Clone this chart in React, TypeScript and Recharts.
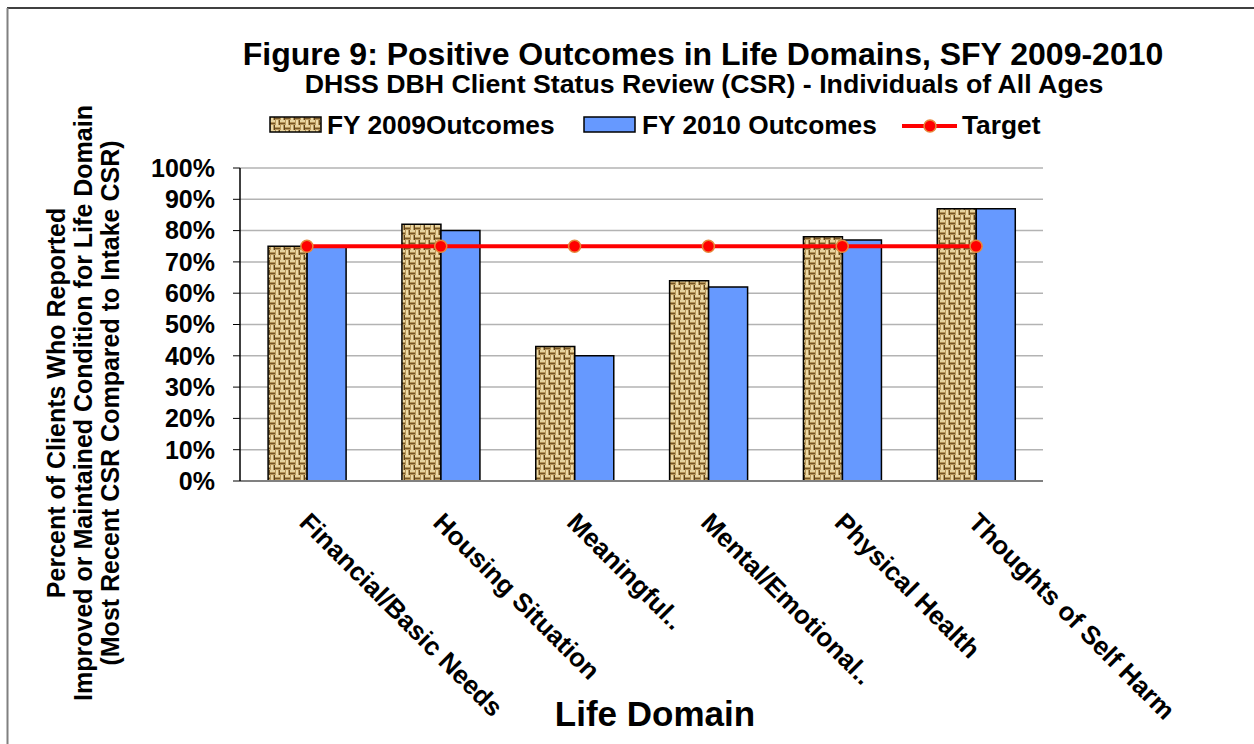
import React from 'react';
import {
  ComposedChart,
  Bar,
  Line,
  XAxis,
  YAxis,
  CartesianGrid,
} from 'recharts';

const domains = [
  'Financial/Basic Needs',
  'Housing Situation',
  'Meaningful..',
  'Mental/Emotional..',
  'Physical Health',
  'Thoughts of Self Harm',
];
const fy2009 = [75, 82, 43, 64, 78, 87];
const fy2010 = [75, 80, 40, 62, 77, 87];
const target = [75, 75, 75, 75, 75, 75];
const yTicks = [0, 10, 20, 30, 40, 50, 60, 70, 80, 90, 100];

const data = domains.map((name, i) => ({
  name,
  fy2009: fy2009[i],
  fy2010: fy2010[i],
  target: target[i],
}));

const FONT = '"Liberation Sans", Arial, sans-serif';
const BLUE = '#6699FF';

const DomainTick = (props: any) => {
  const { x, y, payload } = props;
  return (
    <text
      transform={`translate(${x - 9},${y + 43}) rotate(45)`}
      fontFamily={FONT}
      fontWeight="bold"
      fontSize={26}
      fill="#000"
      textAnchor="start"
    >
      {payload.value}
    </text>
  );
};

const Weave = () => (
  <defs>
    <pattern id="weave" width="10" height="10" patternUnits="userSpaceOnUse">
      <rect width="10" height="10" fill="#b8975a" />
      <rect x="0" y="0" width="5" height="2" fill="#e8d49f" />
      <rect x="0" y="3" width="5" height="1" fill="#765626" />
      <rect x="6" y="0" width="2" height="5" fill="#eddaa8" />
      <rect x="9" y="0" width="1" height="5" fill="#6a4d22" />
      <rect x="5" y="5" width="5" height="2" fill="#e8d49f" />
      <rect x="5" y="8" width="5" height="1" fill="#765626" />
      <rect x="1" y="5" width="2" height="5" fill="#eddaa8" />
      <rect x="4" y="5" width="1" height="5" fill="#5a411e" />
    </pattern>
  </defs>
);

export default function App() {
  return (
    <div style={{ position: 'absolute', left: 0, top: 0, width: 1254, height: 744, background: '#fff' }}>
      <ComposedChart
        width={1254}
        height={744}
        data={data}
        margin={{ top: 168, right: 211, bottom: 233, left: 180 }}
        barCategoryGap="21%"
        barGap={0}
      >
        <Weave />
        <CartesianGrid vertical={false} stroke="#b3b3b3" strokeWidth={1.5} />
        <XAxis
          dataKey="name"
          height={30}
          tickSize={0}
          tickMargin={0}
          tickLine={false}
          axisLine={{ stroke: '#808080', strokeWidth: 2 }}
          tick={<DomainTick />}
          interval={0}
        />
        <YAxis
          width={60}
          domain={[0, 100]}
          ticks={yTicks}
          interval={0}
          tickFormatter={(v: number) => `${v}%`}
          axisLine={{ stroke: '#000', strokeWidth: 1.5 }}
          tickLine={{ stroke: '#000', strokeWidth: 1 }}
          tickSize={7}
          tickMargin={18}
          tick={{ fontFamily: FONT, fontWeight: 'bold', fontSize: 25, fill: '#000' }}
        />
        <Bar dataKey="fy2009" fill="url(#weave)" stroke="#000" strokeWidth={1.5} isAnimationActive={false} />
        <Bar dataKey="fy2010" fill={BLUE} stroke="#000" strokeWidth={1.5} isAnimationActive={false} />
        <Line
          dataKey="target"
          stroke="#ff0000"
          strokeWidth={4}
          dot={{ r: 6, fill: '#ff0000', stroke: '#e8873a', strokeWidth: 1.5 }}
          isAnimationActive={false}
        />
      </ComposedChart>
      <svg
        width={1254}
        height={744}
        style={{ position: 'absolute', left: 0, top: 0, pointerEvents: 'none' }}
        fontFamily={FONT}
        fontWeight="bold"
      >
        <line x1={7} y1={8} x2={1254} y2={8} stroke="#000" strokeWidth={1.5} />
        <line x1={7.5} y1={8} x2={7.5} y2={744} stroke="#808080" strokeWidth={2} />
        <text x={703} y={65} textAnchor="middle" fontSize={32}>
          Figure 9: Positive Outcomes in Life Domains, SFY 2009-2010
        </text>
        <text x={704} y={93} textAnchor="middle" fontSize={26.7}>
          DHSS DBH Client Status Review (CSR) - Individuals of All Ages
        </text>
        <rect x={270} y={117} width={51} height={15} fill="url(#weave)" stroke="#000" strokeWidth={1.5} />
        <text x={327} y={134} fontSize={26.3}>FY 2009Outcomes</text>
        <rect x={584} y={117} width={51} height={15} fill={BLUE} stroke="#000" strokeWidth={1.5} />
        <text x={642} y={134} fontSize={26.3}>FY 2010 Outcomes</text>
        <line x1={902} y1={126} x2={957} y2={126} stroke="#ff0000" strokeWidth={4} />
        <circle cx={930} cy={126} r={6} fill="#ff0000" stroke="#e8873a" strokeWidth={1.5} />
        <text x={962} y={134} fontSize={26.3}>Target</text>
        <g fontSize={25} textAnchor="middle">
          <text transform="translate(65,403) rotate(-90)">Percent of Clients Who Reported</text>
          <text transform="translate(92,403) rotate(-90)">Improved or Maintained Condition for Life Domain</text>
          <text transform="translate(119,403) rotate(-90)">(Most Recent CSR Compared to Intake CSR)</text>
        </g>
        <text x={655} y={726} textAnchor="middle" fontSize={35}>Life Domain</text>
      </svg>
    </div>
  );
}
